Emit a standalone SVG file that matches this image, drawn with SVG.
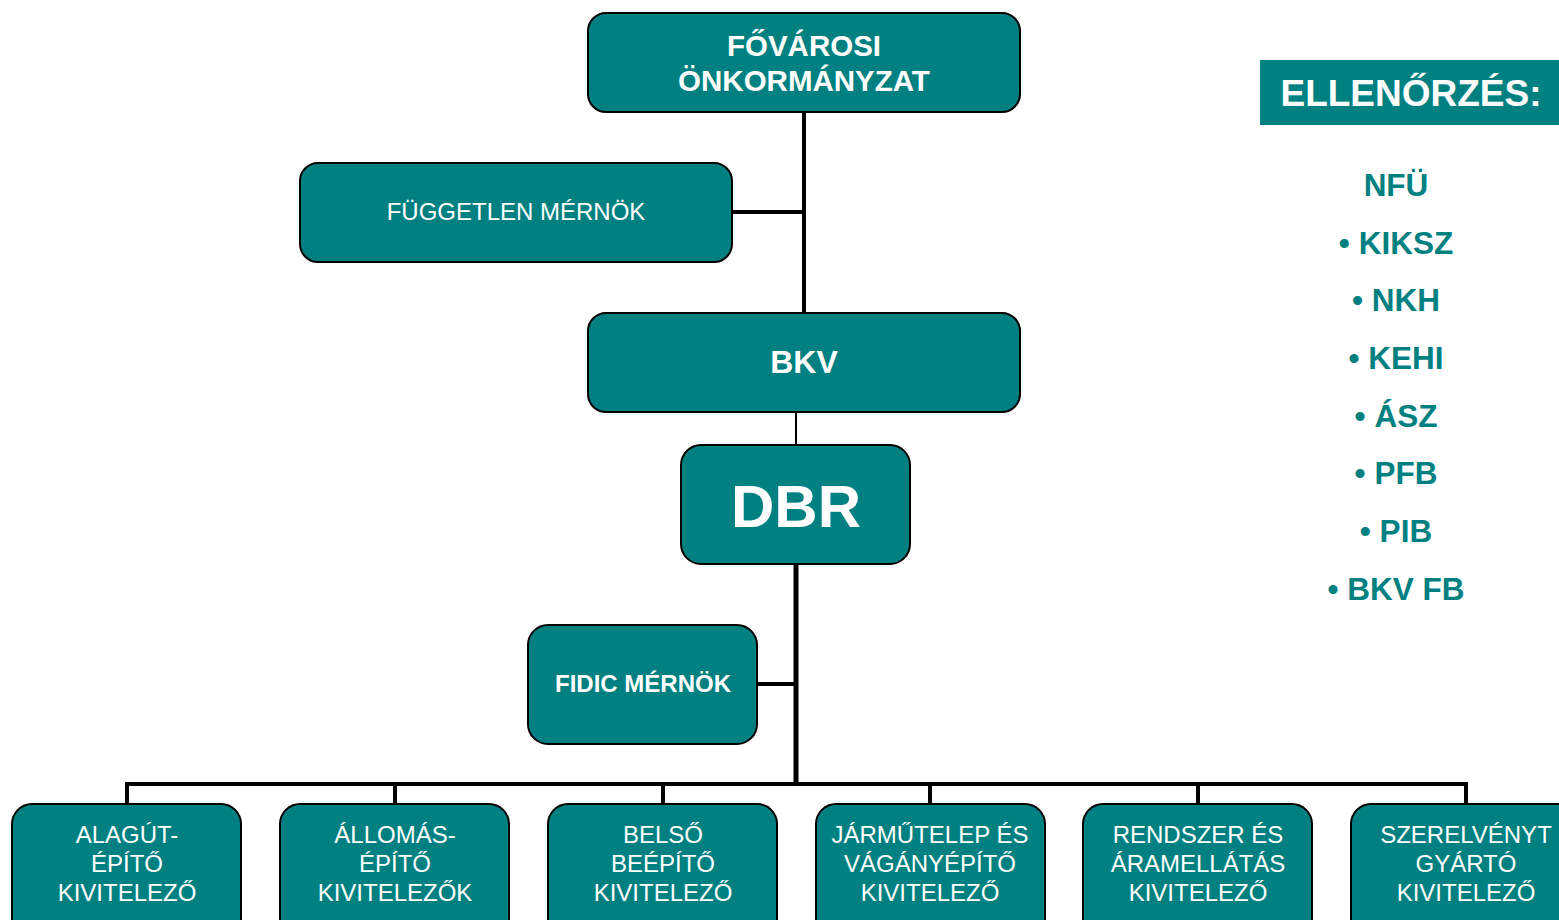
<svg xmlns="http://www.w3.org/2000/svg" width="1559" height="920" viewBox="0 0 1559 920">
<style>
.box{fill:#008080;stroke:#000;stroke-width:2}
.t{font-family:"Liberation Sans",Arial,sans-serif;fill:#fff;text-anchor:middle}
.b{font-weight:bold}
.s{font-size:24px}
.l{font-family:"Liberation Sans",Arial,sans-serif;fill:#008080;font-weight:bold;font-size:31.5px;text-anchor:middle}
.c{stroke:#000;fill:none}
</style>
<rect width="1559" height="920" fill="#fff"/>
<g id="connectors">
<line class="c" x1="804" y1="112" x2="804" y2="313" stroke-width="4"/>
<line class="c" x1="732" y1="212" x2="806" y2="212" stroke-width="4"/>
<line class="c" x1="796" y1="412" x2="796" y2="445" stroke-width="2"/>
<line class="c" x1="796" y1="564" x2="796" y2="786" stroke-width="5"/>
<line class="c" x1="757" y1="684" x2="796" y2="684" stroke-width="4"/>
<polyline class="c" points="127,804 127,784 1466,784 1466,804" stroke-width="4"/>
<line class="c" x1="395" y1="784" x2="395" y2="804" stroke-width="4"/>
<line class="c" x1="663" y1="784" x2="663" y2="804" stroke-width="4"/>
<line class="c" x1="930" y1="784" x2="930" y2="804" stroke-width="4"/>
<line class="c" x1="1198" y1="784" x2="1198" y2="804" stroke-width="4"/>
</g>
<g id="fovarosi">
<rect class="box" x="588" y="13" width="432" height="99" rx="18"/>
<text class="t b" font-size="29.5" x="804" y="56">FŐVÁROSI</text>
<text class="t b" font-size="29.5" x="804" y="91">ÖNKORMÁNYZAT</text>
</g>
<g id="fuggetlen">
<rect class="box" x="300" y="163" width="432" height="99" rx="18"/>
<text class="t s" x="516" y="220">FÜGGETLEN MÉRNÖK</text>
</g>
<g id="bkv">
<rect class="box" x="588" y="313" width="432" height="99" rx="18"/>
<text class="t b" font-size="32" x="804" y="373">BKV</text>
</g>
<g id="dbr">
<rect class="box" x="681" y="445" width="229" height="119" rx="20"/>
<text class="t b" font-size="60" x="796" y="527">DBR</text>
</g>
<g id="fidic">
<rect class="box" x="528" y="625" width="229" height="119" rx="20"/>
<text class="t b" font-size="24" x="643" y="692">FIDIC MÉRNÖK</text>
</g>
<g id="alagut">
<rect class="box" x="12" y="804" width="229" height="140" rx="20"/>
<text class="t s" x="127" y="843">ALAGÚT-</text>
<text class="t s" x="127" y="872">ÉPÍTŐ</text>
<text class="t s" x="127" y="901">KIVITELEZŐ</text>
</g>
<g id="allomas">
<rect class="box" x="280" y="804" width="229" height="140" rx="20"/>
<text class="t s" x="395" y="843">ÁLLOMÁS-</text>
<text class="t s" x="395" y="872">ÉPÍTŐ</text>
<text class="t s" x="395" y="901">KIVITELEZŐK</text>
</g>
<g id="belso">
<rect class="box" x="548" y="804" width="229" height="140" rx="20"/>
<text class="t s" x="663" y="843">BELSŐ</text>
<text class="t s" x="663" y="872">BEÉPÍTŐ</text>
<text class="t s" x="663" y="901">KIVITELEZŐ</text>
</g>
<g id="jarmutelep">
<rect class="box" x="816" y="804" width="229" height="140" rx="20"/>
<text class="t s" x="930" y="843">JÁRMŰTELEP ÉS</text>
<text class="t s" x="930" y="872">VÁGÁNYÉPÍTŐ</text>
<text class="t s" x="930" y="901">KIVITELEZŐ</text>
</g>
<g id="rendszer">
<rect class="box" x="1083" y="804" width="229" height="140" rx="20"/>
<text class="t s" x="1198" y="843">RENDSZER ÉS</text>
<text class="t s" x="1198" y="872">ÁRAMELLÁTÁS</text>
<text class="t s" x="1198" y="901">KIVITELEZŐ</text>
</g>
<g id="szerelveny">
<rect class="box" x="1351" y="804" width="229" height="140" rx="20"/>
<text class="t s" x="1466" y="843">SZERELVÉNYT</text>
<text class="t s" x="1466" y="872">GYÁRTÓ</text>
<text class="t s" x="1466" y="901">KIVITELEZŐ</text>
</g>
<g id="ellenorzes">
<rect x="1260" y="60" width="299" height="65" fill="#008080"/>
<text class="t b" font-size="37" x="1411" y="106">ELLENŐRZÉS:</text>
</g>
<g id="list">
<text class="l" x="1396" y="196">NFÜ</text>
<text class="l" x="1396" y="254">• KIKSZ</text>
<text class="l" x="1396" y="311">• NKH</text>
<text class="l" x="1396" y="369">• KEHI</text>
<text class="l" x="1396" y="427">• ÁSZ</text>
<text class="l" x="1396" y="484">• PFB</text>
<text class="l" x="1396" y="542">• PIB</text>
<text class="l" x="1396" y="600">• BKV FB</text>
</g>
</svg>
